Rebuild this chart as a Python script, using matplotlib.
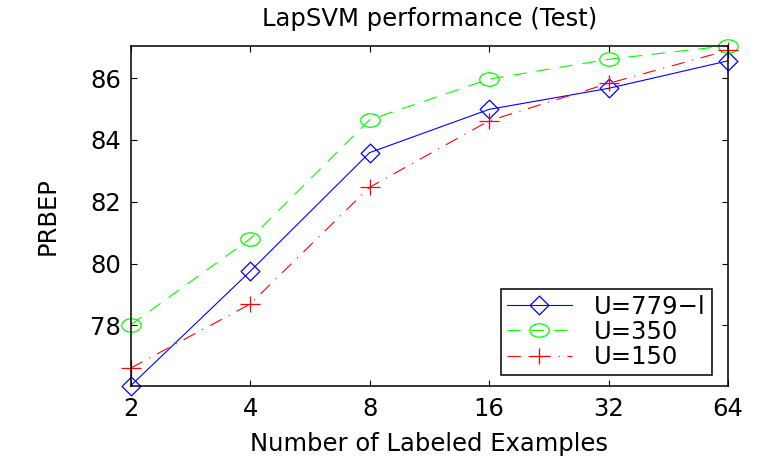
import numpy as np
import matplotlib
matplotlib.use("Agg")
import matplotlib.pyplot as plt
from matplotlib.path import Path
from matplotlib.transforms import Affine2D

# number of labeled examples and PRBEP for each unlabeled-set size
n_labeled = [2, 4, 8, 16, 32, 64]
prbep_779 = [76.05, 79.75, 83.59, 84.99, 85.67, 86.56]
prbep_350 = [78.02, 80.80, 84.65, 85.97, 86.61, 87.05]
prbep_150 = [76.62, 78.69, 82.47, 84.62, 85.83, 86.90]
y_ticks = [78, 80, 82, 84, 86]

fs = 17.5
plt.rcParams['font.family'] = ['DejaVu Sans']
plt.rcParams['font.size'] = fs

# slightly wide markers, like the stretched MATLAB ones
ellipse = Path.unit_circle().transformed(Affine2D().scale(1.0, 0.69))
plus = Path([(-1, 0), (1, 0), (0, -0.82), (0, 0.82)],
            [Path.MOVETO, Path.LINETO, Path.MOVETO, Path.LINETO])
diamond = Path([(0, 1), (1, 0), (0, -1), (-1, 0), (0, 1)],
               [Path.MOVETO, Path.LINETO, Path.LINETO, Path.LINETO, Path.CLOSEPOLY])

fig = plt.figure(figsize=(7.61, 4.63), dpi=100)
ax = fig.add_axes([0.1718, 0.167, 0.9566 - 0.1718, 0.9013 - 0.167])

ax.plot(n_labeled, prbep_779, color=(0, 0, 1), ls='-', lw=0.8,
        marker=diamond, ms=13.5, mfc='none', mew=0.9, clip_on=False, label='U=779\u2212l')
ax.plot(n_labeled, prbep_350, color=(0, 1, 0), ls=(0, (12, 9)), lw=0.8,
        marker=ellipse, ms=14, mfc='none', mew=0.9, clip_on=False, label='U=350')
ax.plot(n_labeled, prbep_150, color=(1, 0, 0), ls=(0, (12, 7, 1, 7)), lw=0.8,
        marker=plus, ms=14, mfc='none', mew=0.9, clip_on=False, label='U=150')

ax.set_xscale('log', base=2)
ax.set_xlim(2, 64)
ax.set_ylim(min(prbep_779), max(prbep_350))
ax.set_xticks(n_labeled)
ax.set_xticklabels([str(n) for n in n_labeled])
ax.xaxis.set_minor_locator(matplotlib.ticker.NullLocator())
ax.set_yticks(y_ticks)

ax.tick_params(direction='in', length=4.5, width=0.8, top=True, right=True,
               labelsize=fs)
ax.tick_params(axis='x', pad=8)
ax.tick_params(axis='y', pad=7)
for s in ax.spines.values():
    s.set_linewidth(1.1)

ax.set_title('LapSVM performance (Test)', fontsize=fs, pad=14)
ax.set_xlabel('Number of Labeled Examples', fontsize=fs, labelpad=8)
ax.set_ylabel('PRBEP', fontsize=fs, labelpad=22)

leg = ax.legend(loc='lower right', bbox_to_anchor=(0.973, 0.031), borderaxespad=0,
                fancybox=False, framealpha=1, edgecolor='black', fontsize=fs,
                handlelength=2.7, handletextpad=0.9, labelspacing=0.05,
                borderpad=0.25)
leg.get_frame().set_linewidth(1.1)

fig.savefig('out.png', dpi=100)
